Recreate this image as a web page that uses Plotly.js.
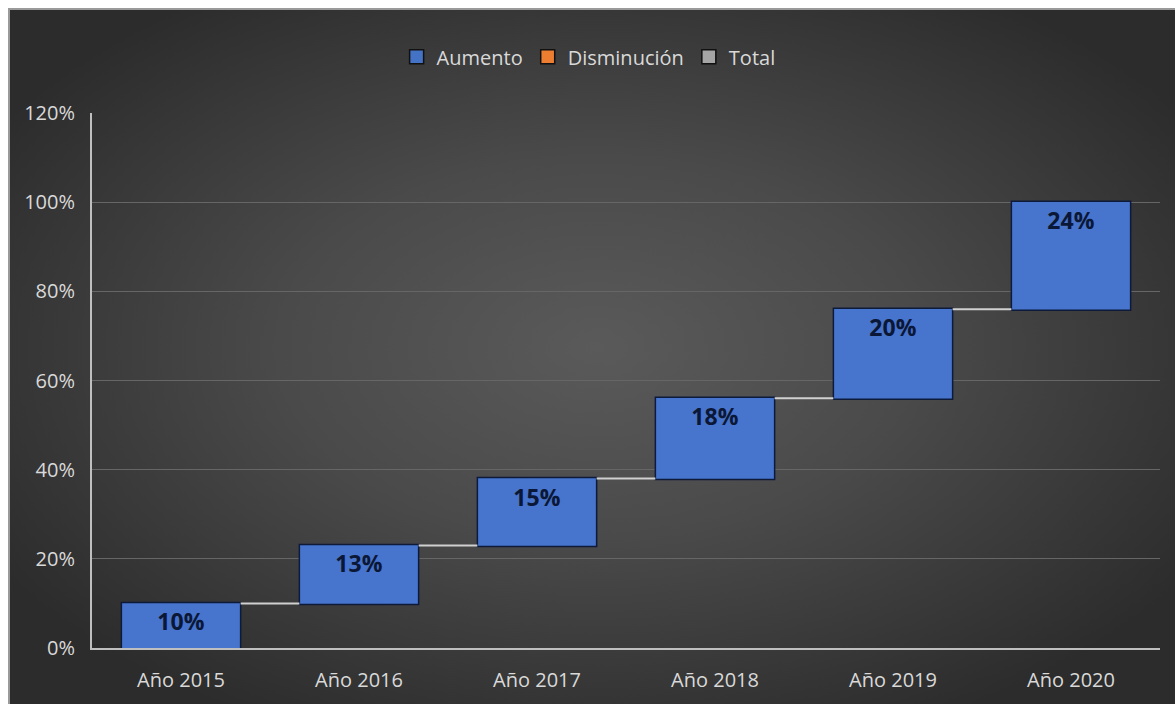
<!DOCTYPE html>
<html>
<head>
<meta charset="utf-8">
<script src="https://cdn.plot.ly/plotly-3.0.1.min.js"></script>
<style>
  html, body { margin: 0; padding: 0; width: 1175px; height: 704px; overflow: hidden; background: #ffffff; }
  #frame {
    position: absolute; left: 8px; top: 8px; width: 1175px; height: 704px;
    border-left: 2px solid #9a9a9a; border-top: 2px solid #9a9a9a;
    background: radial-gradient(ellipse 60% 60% at 50% 48%, #5a5a5a 0%, #4a4a4a 45%, #2c2c2c 100%);
  }
  #chart { position: absolute; left: 0; top: 0; width: 1175px; height: 704px; }
</style>
</head>
<body>
<div id="frame"></div>
<div id="chart"></div>
<script>
const categories = ["Año 2015", "Año 2016", "Año 2017", "Año 2018", "Año 2019", "Año 2020"];
const increments = [10, 13, 15, 18, 20, 24];
const measures = ["relative", "relative", "relative", "relative", "relative", "relative"];
const labels = increments.map(v => v + "%");
const legendNames = ["Aumento", "Disminución", "Total"];
const legendColors = ["#4472C4", "#ED7D31", "#A5A5A5"];

const FONT = "Open Sans, Noto Sans, DejaVu Sans, sans-serif";

const waterfall = {
  type: "waterfall",
  x: categories,
  y: increments,
  measure: measures,
  text: labels,
  textposition: "inside",
  insidetextanchor: "end",
  constraintext: "none",
  textfont: { family: FONT, size: 23, color: "#0b1736", weight: "bold" },
  increasing: { marker: { color: "#4774cc", line: { color: "#0d1a3a", width: 1.5 } } },
  decreasing: { marker: { color: "#ED7D31", line: { color: "#0d1a3a", width: 1.5 } } },
  totals: { marker: { color: "#A5A5A5", line: { color: "#0d1a3a", width: 1.5 } } },
  connector: { mode: "between", line: { color: "#d0d0d0", width: 2 } },
  showlegend: false,
  hoverinfo: "x+y"
};

const legendTraces = legendNames.map((n, i) => ({
  type: "scatter",
  mode: "markers",
  x: [null],
  y: [null],
  name: n,
  marker: { symbol: "square", size: 14, color: legendColors[i], line: { color: "#111111", width: 1.5 } },
  showlegend: true
}));

const layout = {
  width: 1175,
  height: 704,
  paper_bgcolor: "rgba(0,0,0,0)",
  plot_bgcolor: "rgba(0,0,0,0)",
  margin: { l: 92, r: 15, t: 113, b: 56, pad: 0 },
  font: { family: FONT, size: 20, color: "#d9d9d9" },
  waterfallgap: 0.33,
  showlegend: true,
  legend: {
    orientation: "h",
    x: 0.465, xanchor: "center",
    y: 1.105, yanchor: "middle",
    font: { family: FONT, size: 20, color: "#d9d9d9" },
    itemclick: false,
    itemwidth: 30,
    bgcolor: "rgba(0,0,0,0)",
    traceorder: "normal"
  },
  xaxis: {
    type: "category",
    range: [-0.5, 5.5],
    showgrid: false,
    showline: true,
    linecolor: "#bfbfbf",
    linewidth: 2,
    ticks: "",
    ticklabelstandoff: 13,
    tickfont: { family: FONT, size: 20, color: "#d9d9d9" },
    zeroline: false
  },
  yaxis: {
    range: [0, 120],
    dtick: 20,
    tick0: 0,
    ticksuffix: "%",
    showgrid: true,
    gridcolor: "#666666",
    gridwidth: 1,
    showline: true,
    linecolor: "#bfbfbf",
    linewidth: 2,
    ticks: "",
    ticklabelstandoff: 11,
    zeroline: false,
    tickfont: { family: FONT, size: 20, color: "#d9d9d9" }
  }
};

Plotly.newPlot("chart", [waterfall, ...legendTraces], layout, { displayModeBar: false, staticPlot: true });
</script>
</body>
</html>
